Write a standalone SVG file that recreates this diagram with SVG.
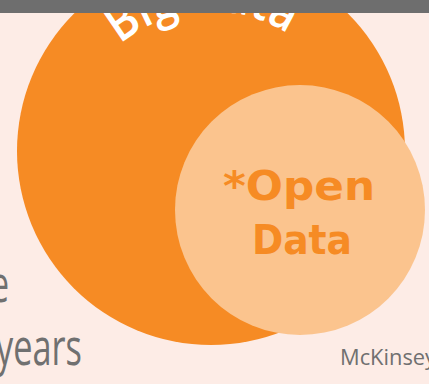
<svg xmlns="http://www.w3.org/2000/svg" width="429" height="384" viewBox="0 0 429 384">
<style>
.gray{fill:#707070;font-family:"Open Sans","Liberation Sans",sans-serif}
.open{fill:#f68b24;font-family:"DejaVu Sans","Open Sans",sans-serif;font-weight:bold;font-size:41px;text-anchor:middle}
</style>
<defs>
<path id="arc" d="M 71 151 A 140 140 0 0 1 351 151"/>
</defs>
<rect x="0" y="0" width="429" height="384" fill="#fdece6"/>
<g id="bigdata">
<circle cx="211" cy="151" r="194" fill="#f68b24"/>
<text font-family="'Open Sans','Liberation Sans',sans-serif" font-size="50" font-weight="600" fill="#ffffff"><textPath href="#arc" startOffset="48%" text-anchor="middle" textLength="180" lengthAdjust="spacingAndGlyphs">Big Data</textPath></text>
</g>
<g id="opendata">
<circle cx="300" cy="210" r="125" fill="#fbc48e"/>
<text class="open" x="299" y="200" textLength="152" lengthAdjust="spacingAndGlyphs">*Open</text>
<text class="open" x="302" y="254" textLength="100" lengthAdjust="spacingAndGlyphs">Data</text>
</g>
<rect x="0" y="0" width="429" height="13" fill="#6e6e6e"/>
<g id="lefttext">
<text class="gray" x="-9" y="302" font-size="52" textLength="18" lengthAdjust="spacingAndGlyphs">e</text>
<text class="gray" x="-4" y="365" font-size="52" textLength="86" lengthAdjust="spacingAndGlyphs">years</text>
</g>
<text class="gray" x="340" y="365" font-size="21" textLength="96" lengthAdjust="spacingAndGlyphs">McKinsey</text>
</svg>
